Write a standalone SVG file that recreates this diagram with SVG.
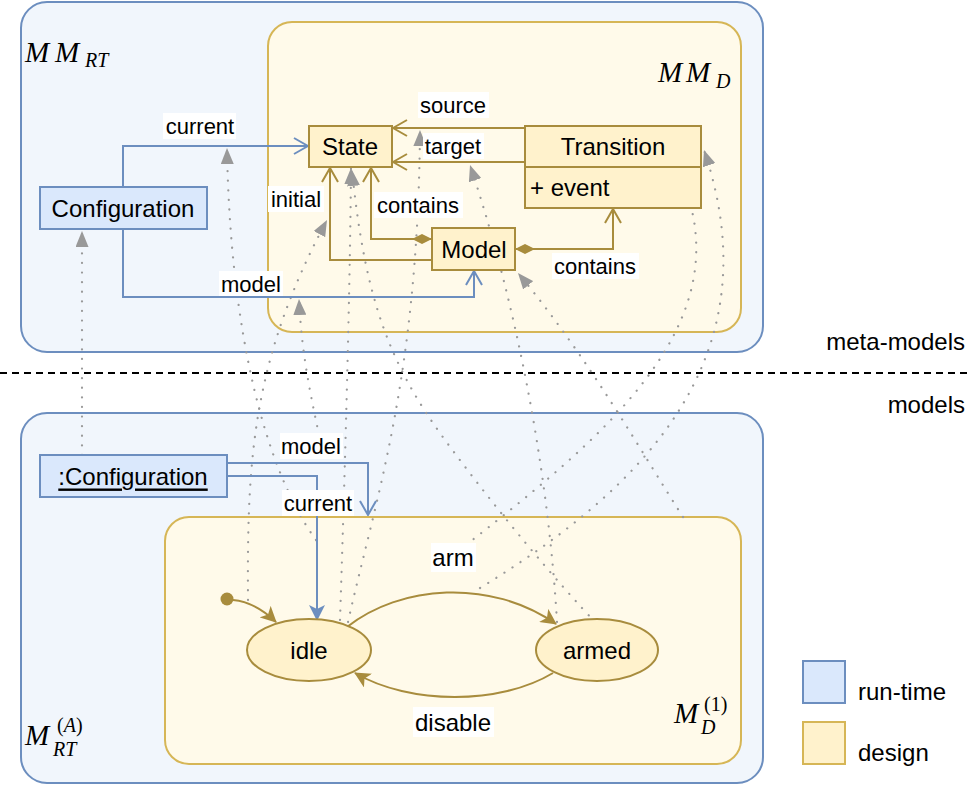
<svg xmlns="http://www.w3.org/2000/svg" width="969" height="786" viewBox="0 0 969 786">
<defs>
<style>
.lbl{font-family:"Liberation Sans",Arial,sans-serif;font-size:22px;fill:#000;text-anchor:middle;dominant-baseline:central;}
.big{font-size:24px;}
.math{font-family:"Liberation Serif","Times New Roman",serif;font-style:italic;fill:#000;}
.up{font-style:normal;}
.bg{fill:#fff;}
.cont-rt{fill:#f1f6fc;stroke:#6c8ebf;stroke-width:2;}
.cont-d{fill:#fffaea;stroke:#d6b656;stroke-width:2;}
.rt{fill:#dae8fc;stroke:#6c8ebf;stroke-width:2;}
.d{fill:#fff2cc;stroke:#a88c3d;stroke-width:2;}
.leg-d{fill:#fff2cc;stroke:#d6b656;stroke-width:2;}
.inst{fill:none;stroke:#999;stroke-width:2.2;stroke-dasharray:0.1 9.5;stroke-linecap:round;marker-end:url(#ga);}
.blue{fill:none;stroke:#6c8ebf;stroke-width:2;}
.gold{fill:none;stroke:#a88c3d;stroke-width:2;}
</style>
<marker id="ga" markerUnits="userSpaceOnUse" markerWidth="17" markerHeight="13" refX="16" refY="6.5" orient="auto"><path d="M0,0 L16,6.5 L0,13 z" fill="#999"/></marker>
<marker id="bo" markerUnits="userSpaceOnUse" markerWidth="16" markerHeight="18" refX="15" refY="9" orient="auto"><path d="M1,1 L15,9 L1,17" fill="none" stroke="#6c8ebf" stroke-width="2"/></marker>
<marker id="go" markerUnits="userSpaceOnUse" markerWidth="16" markerHeight="18" refX="15" refY="9" orient="auto"><path d="M1,1 L15,9 L1,17" fill="none" stroke="#a88c3d" stroke-width="2"/></marker>
<marker id="bf" markerUnits="userSpaceOnUse" markerWidth="16" markerHeight="16" refX="15" refY="8" orient="auto"><path d="M0,0 L16,8 L0,16 L4,8 z" fill="#6c8ebf"/></marker>
<marker id="gf" markerUnits="userSpaceOnUse" markerWidth="16" markerHeight="16" refX="15" refY="8" orient="auto"><path d="M0,0 L16,8 L0,16 L4,8 z" fill="#a88c3d"/></marker>
<marker id="dm" markerUnits="userSpaceOnUse" markerWidth="21" markerHeight="12" refX="0" refY="6" orient="auto"><path d="M0,6 L10,1 L20,6 L10,11 z" fill="#a88c3d"/></marker>
</defs>
<rect width="969" height="786" fill="#fff"/>

<g id="meta-models-area">
<rect class="cont-rt" x="21" y="2" width="742" height="350" rx="26"/>
<text class="math" font-size="29"><tspan x="25" y="62">M</tspan><tspan x="55" y="62">M</tspan><tspan x="85" y="67" font-size="20">RT</tspan></text>
</g>
<g id="mm-d">
<rect class="cont-d" x="268" y="22" width="473" height="310" rx="24"/>
<text class="math" font-size="29"><tspan x="658" y="82">M</tspan><tspan x="686" y="82">M</tspan><tspan x="716" y="88" font-size="20">D</tspan></text>
</g>

<g id="separator">
<line x1="0" y1="373" x2="969" y2="373" stroke="#000" stroke-width="2" stroke-dasharray="7 5"/>
<text class="lbl big" x="965" y="341" style="text-anchor:end">meta-models</text>
<text class="lbl big" x="965" y="404" style="text-anchor:end">models</text>
</g>

<g id="models-area">
<rect class="cont-rt" x="21" y="413" width="742" height="370" rx="26"/>
<text class="math" font-size="29"><tspan x="25" y="745">M</tspan><tspan x="57" y="732" font-size="20"><tspan class="up">(</tspan>A<tspan class="up">)</tspan></tspan><tspan x="53" y="756" font-size="20">RT</tspan></text>
</g>
<g id="m-d1">
<rect class="cont-d" x="165" y="517" width="576" height="247" rx="24"/>
<text class="math" font-size="29"><tspan x="674" y="723">M</tspan><tspan x="704" y="711" font-size="20" class="up">(1)</tspan><tspan x="701" y="734" font-size="20">D</tspan></text>
</g>

<g id="connectors">
<!-- instance-of links -->
<path class="inst" d="M82,455 L82,231"/>
<path class="inst" d="M316,540 C265,470 230,330 227,148"/>
<path class="inst" d="M248,600 C247,460 252,360 327,220"/>
<path class="inst" d="M321,445 C312,400 302,360 299,299"/>
<path class="inst" d="M340,620 C344,500 350,300 351,168"/>
<path class="inst" d="M595,622 C560,585 500,515 445,440 S365,300 352,170"/>
<path class="inst" d="M348,622 C375,500 418,380 420,130"/>
<path class="inst" d="M557,622 C550,500 525,330 470,165"/>
<path class="inst" d="M683,517 C640,450 590,360 518,273"/>
<path class="inst" d="M480,588 C640,490 775,360 704,150"/>
<path class="inst" d="M466,545 C600,440 735,330 686,190"/>

<!-- meta-model edges -->
<path class="blue" d="M123,187 V146 H308" marker-end="url(#bo)"/>
<path class="blue" d="M123,229 V297 H474 V271" marker-end="url(#bo)"/>
<path class="gold" d="M525,128 H393" marker-end="url(#go)"/>
<path class="gold" d="M525,162 H393" marker-end="url(#go)"/>
<path class="gold" d="M432,260 H330 V168" marker-end="url(#go)"/>
<path class="gold" d="M432,239 H371 V168" marker-start="url(#dm)" marker-end="url(#go)"/>
<path class="gold" d="M515,249 H613 V209" marker-start="url(#dm)" marker-end="url(#go)"/>

<!-- model edges -->
<path class="blue" d="M227,463 H368 V515" marker-end="url(#bo)"/>
<path class="blue" d="M227,476 H317 V620" marker-end="url(#bf)"/>
<circle cx="227" cy="599" r="6.5" fill="#a88c3d"/>
<path class="gold" d="M233,600 Q255,602 276,622" marker-end="url(#gf)"/>
<path class="gold" d="M347,627 C400,585 490,578 556,624" marker-end="url(#gf)"/>
<path class="gold" d="M553,673 C500,705 410,705 355,673" marker-end="url(#gf)"/>

<!-- labels -->
<rect class="bg" x="163" y="113" width="73" height="26"/><text class="lbl" x="200" y="126">current</text>
<rect class="bg" x="219" y="271" width="64" height="25"/><text class="lbl" x="251" y="284">model</text>
<rect class="bg" x="268" y="186" width="56" height="26"/><text class="lbl" x="296" y="199">initial</text>
<rect class="bg" x="374" y="192" width="89" height="26"/><text class="lbl" x="418" y="205">contains</text>
<rect class="bg" x="418" y="92" width="71" height="26"/><text class="lbl" x="453" y="105">source</text>
<rect class="bg" x="423" y="133" width="61" height="26"/><text class="lbl" x="453" y="146">target</text>
<rect class="bg" x="552" y="253" width="87" height="26"/><text class="lbl" x="595" y="266">contains</text>
<rect class="bg" x="280" y="433" width="63" height="26"/><text class="lbl" x="311" y="446">model</text>
<rect class="bg" x="282" y="490" width="72" height="26"/><text class="lbl" x="318" y="503">current</text>
<rect class="bg" x="431" y="543" width="45" height="29"/><text class="lbl big" x="453" y="557">arm</text>
<rect class="bg" x="413" y="707" width="81" height="30"/><text class="lbl big" x="453" y="722">disable</text>
</g>

<g id="Configuration">
<rect class="rt" x="40" y="187" width="167" height="42"/>
<text class="lbl big" x="123" y="208">Configuration</text>
</g>
<g id="State">
<rect class="d" x="309" y="126" width="83" height="41"/>
<text class="lbl big" x="350" y="146">State</text>
</g>
<g id="Transition">
<rect class="d" x="525" y="126" width="176" height="41"/>
<rect class="d" x="525" y="167" width="176" height="41"/>
<text class="lbl big" x="613" y="146">Transition</text>
<text class="lbl big" x="530" y="187" style="text-anchor:start">+ event</text>
</g>
<g id="Model">
<rect class="d" x="432" y="228" width="83" height="42"/>
<text class="lbl big" x="474" y="249">Model</text>
</g>
<g id="config-instance">
<rect class="rt" x="40" y="455" width="187" height="42"/>
<text class="lbl big" x="133" y="476" text-decoration="underline">:Configuration</text>
</g>
<g id="idle">
<ellipse class="d" cx="309" cy="650" rx="62" ry="31"/>
<text class="lbl big" x="309" y="650">idle</text>
</g>
<g id="armed">
<ellipse class="d" cx="597" cy="650" rx="61" ry="31"/>
<text class="lbl big" x="597" y="650">armed</text>
</g>
<g id="legend">
<rect class="rt" x="803" y="661" width="42" height="42"/>
<text class="lbl big" x="858" y="691" style="text-anchor:start">run-time</text>
<rect class="leg-d" x="803" y="722" width="42" height="42"/>
<text class="lbl big" x="858" y="752" style="text-anchor:start">design</text>
</g>
</svg>
